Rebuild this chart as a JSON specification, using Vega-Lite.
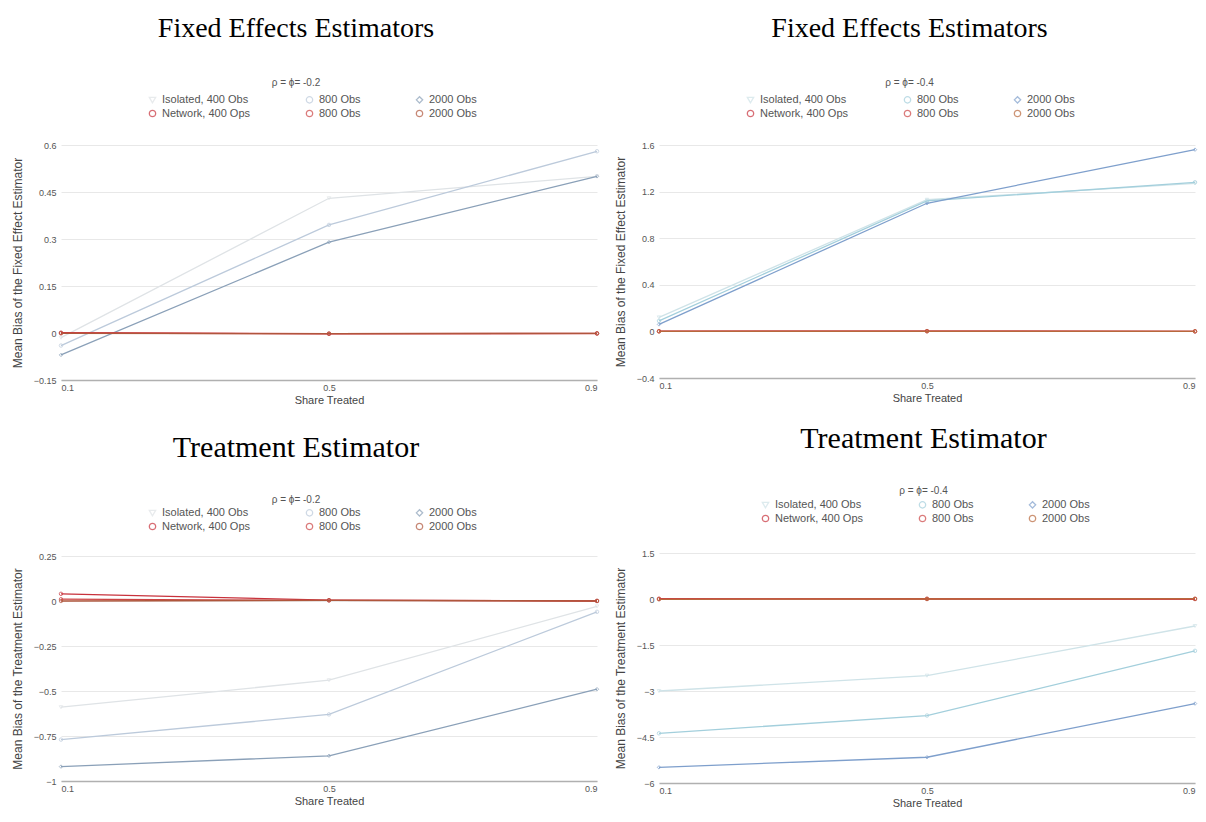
{
  "$schema": "https://vega.github.io/schema/vega-lite/v6.json",
  "background": "white",
  "padding": {"left": 11, "top": 15, "right": 4, "bottom": 4},
  "datasets": {
    "fe02": [
      {"share": 0.1, "bias": -0.015, "series": "I400"}, {"share": 0.5, "bias": 0.43, "series": "I400"}, {"share": 0.9, "bias": 0.50, "series": "I400"},
      {"share": 0.1, "bias": -0.04, "series": "I800"}, {"share": 0.5, "bias": 0.345, "series": "I800"}, {"share": 0.9, "bias": 0.58, "series": "I800"},
      {"share": 0.1, "bias": -0.07, "series": "I2000"}, {"share": 0.5, "bias": 0.29, "series": "I2000"}, {"share": 0.9, "bias": 0.50, "series": "I2000"},
      {"share": 0.1, "bias": 0.001, "series": "N400"}, {"share": 0.5, "bias": -0.002, "series": "N400"}, {"share": 0.9, "bias": -0.001, "series": "N400"},
      {"share": 0.1, "bias": 0.0, "series": "N800"}, {"share": 0.5, "bias": -0.003, "series": "N800"}, {"share": 0.9, "bias": -0.002, "series": "N800"},
      {"share": 0.1, "bias": -0.001, "series": "N2000"}, {"share": 0.5, "bias": -0.002, "series": "N2000"}, {"share": 0.9, "bias": -0.001, "series": "N2000"}
    ],
    "fe04": [
      {"share": 0.1, "bias": 0.12, "series": "I400"}, {"share": 0.5, "bias": 1.13, "series": "I400"}, {"share": 0.9, "bias": 1.27, "series": "I400"},
      {"share": 0.1, "bias": 0.09, "series": "I800"}, {"share": 0.5, "bias": 1.12, "series": "I800"}, {"share": 0.9, "bias": 1.28, "series": "I800"},
      {"share": 0.1, "bias": 0.06, "series": "I2000"}, {"share": 0.5, "bias": 1.10, "series": "I2000"}, {"share": 0.9, "bias": 1.56, "series": "I2000"},
      {"share": 0.1, "bias": 0.002, "series": "N400"}, {"share": 0.5, "bias": 0.003, "series": "N400"}, {"share": 0.9, "bias": 0.001, "series": "N400"},
      {"share": 0.1, "bias": 0.001, "series": "N800"}, {"share": 0.5, "bias": 0.002, "series": "N800"}, {"share": 0.9, "bias": 0.0, "series": "N800"},
      {"share": 0.1, "bias": 0.0, "series": "N2000"}, {"share": 0.5, "bias": 0.001, "series": "N2000"}, {"share": 0.9, "bias": 0.001, "series": "N2000"}
    ],
    "tr02": [
      {"share": 0.1, "bias": -0.59, "series": "I400"}, {"share": 0.5, "bias": -0.44, "series": "I400"}, {"share": 0.9, "bias": -0.03, "series": "I400"},
      {"share": 0.1, "bias": -0.77, "series": "I800"}, {"share": 0.5, "bias": -0.63, "series": "I800"}, {"share": 0.9, "bias": -0.06, "series": "I800"},
      {"share": 0.1, "bias": -0.92, "series": "I2000"}, {"share": 0.5, "bias": -0.86, "series": "I2000"}, {"share": 0.9, "bias": -0.49, "series": "I2000"},
      {"share": 0.1, "bias": 0.04, "series": "N400"}, {"share": 0.5, "bias": 0.005, "series": "N400"}, {"share": 0.9, "bias": 0.0, "series": "N400"},
      {"share": 0.1, "bias": 0.01, "series": "N800"}, {"share": 0.5, "bias": 0.003, "series": "N800"}, {"share": 0.9, "bias": 0.001, "series": "N800"},
      {"share": 0.1, "bias": 0.0, "series": "N2000"}, {"share": 0.5, "bias": 0.004, "series": "N2000"}, {"share": 0.9, "bias": 0.0, "series": "N2000"}
    ],
    "tr04": [
      {"share": 0.1, "bias": -3.0, "series": "I400"}, {"share": 0.5, "bias": -2.5, "series": "I400"}, {"share": 0.9, "bias": -0.88, "series": "I400"},
      {"share": 0.1, "bias": -4.38, "series": "I800"}, {"share": 0.5, "bias": -3.8, "series": "I800"}, {"share": 0.9, "bias": -1.69, "series": "I800"},
      {"share": 0.1, "bias": -5.49, "series": "I2000"}, {"share": 0.5, "bias": -5.16, "series": "I2000"}, {"share": 0.9, "bias": -3.41, "series": "I2000"},
      {"share": 0.1, "bias": 0.01, "series": "N400"}, {"share": 0.5, "bias": 0.0, "series": "N400"}, {"share": 0.9, "bias": 0.0, "series": "N400"},
      {"share": 0.1, "bias": 0.0, "series": "N800"}, {"share": 0.5, "bias": 0.01, "series": "N800"}, {"share": 0.9, "bias": 0.0, "series": "N800"},
      {"share": 0.1, "bias": -0.01, "series": "N2000"}, {"share": 0.5, "bias": 0.0, "series": "N2000"}, {"share": 0.9, "bias": 0.01, "series": "N2000"}
    ]
  },
  "config": {
    "view": {"stroke": null},
    "font": "Liberation Sans",
    "title": {"font": "Liberation Serif", "fontSize": 28, "fontWeight": "normal", "color": "#000", "anchor": "middle", "frame": "bounds", "subtitleFont": "Liberation Sans", "subtitleFontSize": 10, "subtitleColor": "#555", "subtitlePadding": 35},
    "axis": {"labelFont": "Liberation Sans", "labelFontSize": 9, "labelColor": "#555", "titleFont": "Liberation Sans", "titleFontWeight": "normal", "titleColor": "#444", "ticks": false, "domain": false, "gridColor": "#e8e8e8", "format": ".2~f"},
    "axisX": {"grid": false, "labelPadding": 3, "titlePadding": 2, "titleFontSize": 11, "domain": true, "domainColor": "#b0b0b0", "domainWidth": 1.5},
    "axisY": {"labelPadding": 5, "titlePadding": 9, "titleFontSize": 12},
    "legend": {"title": null, "labelFont": "Liberation Sans", "labelFontSize": 11, "labelColor": "#555", "symbolSize": 40, "symbolStrokeWidth": 1.3, "columnPadding": 52, "rowPadding": 1, "columns": 3, "direction": "horizontal", "orient": "none"}
  },
  "resolve": {"scale": {"color": "independent", "shape": "independent"}, "legend": {"color": "independent", "shape": "independent"}},
  "spacing": 13,
  "hconcat": [
    {
      "spacing": 28,
      "resolve": {"scale": {"color": "independent", "shape": "independent"}, "legend": {"color": "independent", "shape": "independent"}},
      "vconcat": [
        {
          "width": 536, "height": 235,
          "title": {"text": "Fixed Effects Estimators", "subtitle": "ρ = ϕ= -0.2", "offset": 6, "dx": -10},
          "data": {"name": "fe02"},
          "encoding": {
            "x": {"field": "share", "type": "quantitative", "scale": {"domain": [0.1, 0.9], "nice": false, "zero": false}, "axis": {"values": [0.1, 0.5, 0.9], "title": "Share Treated"}},
            "y": {"field": "bias", "type": "quantitative", "scale": {"domain": [-0.15, 0.6], "nice": false, "zero": false}, "axis": {"values": [-0.15, 0, 0.15, 0.3, 0.45, 0.6], "title": "Mean Bias of the Fixed Effect Estimator"}}
          },
          "layer": [
            {"mark": {"type": "point", "filled": false, "size": 12, "strokeWidth": 1}, "encoding": {
              "color": {"field": "series", "type": "nominal", "scale": {"domain": ["I400", "I800", "I2000", "N400", "N800", "N2000"], "range": ["#dfe3e6", "#bccadb", "#8aa0b8", "#c8323c", "#cc4444", "#b0563c"]}, "legend": {"legendX": 86, "legendY": -51, "labelExpr": "{'I400':'Isolated, 400 Obs','I800':'800 Obs','I2000':'2000 Obs','N400':'Network, 400 Ops','N800':'800 Obs','N2000':'2000 Obs'}[datum.label]"}},
              "shape": {"field": "series", "type": "nominal", "scale": {"domain": ["I400", "I800", "I2000", "N400", "N800", "N2000"], "range": ["triangle-down", "circle", "diamond", "circle", "circle", "circle"]}, "legend": {"legendX": 86, "legendY": -51, "labelExpr": "{'I400':'Isolated, 400 Obs','I800':'800 Obs','I2000':'2000 Obs','N400':'Network, 400 Ops','N800':'800 Obs','N2000':'2000 Obs'}[datum.label]"}}
            }},
            {"mark": {"type": "line", "strokeWidth": 1.3}, "encoding": {"color": {"field": "series", "type": "nominal", "legend": null}}}
          ]
        },
        {
          "width": 536, "height": 225,
          "title": {"text": "Treatment Estimator", "subtitle": "ρ = ϕ= -0.2", "offset": 2, "dx": -10, "fontSize": 30, "subtitlePadding": 32},
          "data": {"name": "tr02"},
          "encoding": {
            "x": {"field": "share", "type": "quantitative", "scale": {"domain": [0.1, 0.9], "nice": false, "zero": false}, "axis": {"values": [0.1, 0.5, 0.9], "title": "Share Treated"}},
            "y": {"field": "bias", "type": "quantitative", "scale": {"domain": [-1, 0.25], "nice": false, "zero": false}, "axis": {"values": [-1, -0.75, -0.5, -0.25, 0, 0.25], "title": "Mean Bias of the Treatment  Estimator"}}
          },
          "layer": [
            {"mark": {"type": "point", "filled": false, "size": 12, "strokeWidth": 1}, "encoding": {
              "color": {"field": "series", "type": "nominal", "scale": {"domain": ["I400", "I800", "I2000", "N400", "N800", "N2000"], "range": ["#dfe3e6", "#bccadb", "#8aa0b8", "#c8323c", "#cc4444", "#b0563c"]}, "legend": {"legendX": 86, "legendY": -49, "labelExpr": "{'I400':'Isolated, 400 Obs','I800':'800 Obs','I2000':'2000 Obs','N400':'Network, 400 Ops','N800':'800 Obs','N2000':'2000 Obs'}[datum.label]"}},
              "shape": {"field": "series", "type": "nominal", "scale": {"domain": ["I400", "I800", "I2000", "N400", "N800", "N2000"], "range": ["triangle-down", "circle", "diamond", "circle", "circle", "circle"]}, "legend": {"legendX": 86, "legendY": -49, "labelExpr": "{'I400':'Isolated, 400 Obs','I800':'800 Obs','I2000':'2000 Obs','N400':'Network, 400 Ops','N800':'800 Obs','N2000':'2000 Obs'}[datum.label]"}}
            }},
            {"mark": {"type": "line", "strokeWidth": 1.3}, "encoding": {"color": {"field": "series", "type": "nominal", "legend": null}}}
          ]
        }
      ]
    },
    {
      "spacing": 21,
      "resolve": {"scale": {"color": "independent", "shape": "independent"}, "legend": {"color": "independent", "shape": "independent"}},
      "vconcat": [
        {
          "width": 536, "height": 233,
          "title": {"text": "Fixed Effects Estimators", "subtitle": "ρ = ϕ= -0.4", "offset": 6, "dx": 3},
          "data": {"name": "fe04"},
          "encoding": {
            "x": {"field": "share", "type": "quantitative", "scale": {"domain": [0.1, 0.9], "nice": false, "zero": false}, "axis": {"values": [0.1, 0.5, 0.9], "title": "Share Treated"}},
            "y": {"field": "bias", "type": "quantitative", "scale": {"domain": [-0.4, 1.6], "nice": false, "zero": false}, "axis": {"values": [-0.4, 0, 0.4, 0.8, 1.2, 1.6], "title": "Mean Bias of the Fixed Effect Estimator"}}
          },
          "layer": [
            {"mark": {"type": "point", "filled": false, "size": 12, "strokeWidth": 1}, "encoding": {
              "color": {"field": "series", "type": "nominal", "scale": {"domain": ["I400", "I800", "I2000", "N400", "N800", "N2000"], "range": ["#cfe3e8", "#a3cfdc", "#7e9fcc", "#c8323c", "#cc4444", "#b8683c"]}, "legend": {"legendX": 86, "legendY": -51, "labelExpr": "{'I400':'Isolated, 400 Obs','I800':'800 Obs','I2000':'2000 Obs','N400':'Network, 400 Ops','N800':'800 Obs','N2000':'2000 Obs'}[datum.label]"}},
              "shape": {"field": "series", "type": "nominal", "scale": {"domain": ["I400", "I800", "I2000", "N400", "N800", "N2000"], "range": ["triangle-down", "circle", "diamond", "circle", "circle", "circle"]}, "legend": {"legendX": 86, "legendY": -51, "labelExpr": "{'I400':'Isolated, 400 Obs','I800':'800 Obs','I2000':'2000 Obs','N400':'Network, 400 Ops','N800':'800 Obs','N2000':'2000 Obs'}[datum.label]"}}
            }},
            {"mark": {"type": "line", "strokeWidth": 1.3}, "encoding": {"color": {"field": "series", "type": "nominal", "legend": null}}}
          ]
        },
        {
          "width": 536, "height": 230,
          "title": {"text": "Treatment Estimator", "subtitle": "ρ = ϕ= -0.4", "offset": 3, "dx": 17, "fontSize": 30, "subtitlePadding": 32},
          "data": {"name": "tr04"},
          "encoding": {
            "x": {"field": "share", "type": "quantitative", "scale": {"domain": [0.1, 0.9], "nice": false, "zero": false}, "axis": {"values": [0.1, 0.5, 0.9], "title": "Share Treated"}},
            "y": {"field": "bias", "type": "quantitative", "scale": {"domain": [-6, 1.5], "nice": false, "zero": false}, "axis": {"values": [-6, -4.5, -3, -1.5, 0, 1.5], "title": "Mean Bias of the Treatment  Estimator"}}
          },
          "layer": [
            {"mark": {"type": "point", "filled": false, "size": 12, "strokeWidth": 1}, "encoding": {
              "color": {"field": "series", "type": "nominal", "scale": {"domain": ["I400", "I800", "I2000", "N400", "N800", "N2000"], "range": ["#cfe3e8", "#a3cfdc", "#7e9fcc", "#c8323c", "#cc4444", "#b8683c"]}, "legend": {"legendX": 101, "legendY": -54, "labelExpr": "{'I400':'Isolated, 400 Obs','I800':'800 Obs','I2000':'2000 Obs','N400':'Network, 400 Ops','N800':'800 Obs','N2000':'2000 Obs'}[datum.label]"}},
              "shape": {"field": "series", "type": "nominal", "scale": {"domain": ["I400", "I800", "I2000", "N400", "N800", "N2000"], "range": ["triangle-down", "circle", "diamond", "circle", "circle", "circle"]}, "legend": {"legendX": 101, "legendY": -54, "labelExpr": "{'I400':'Isolated, 400 Obs','I800':'800 Obs','I2000':'2000 Obs','N400':'Network, 400 Ops','N800':'800 Obs','N2000':'2000 Obs'}[datum.label]"}}
            }},
            {"mark": {"type": "line", "strokeWidth": 1.3}, "encoding": {"color": {"field": "series", "type": "nominal", "legend": null}}}
          ]
        }
      ]
    }
  ]
}
